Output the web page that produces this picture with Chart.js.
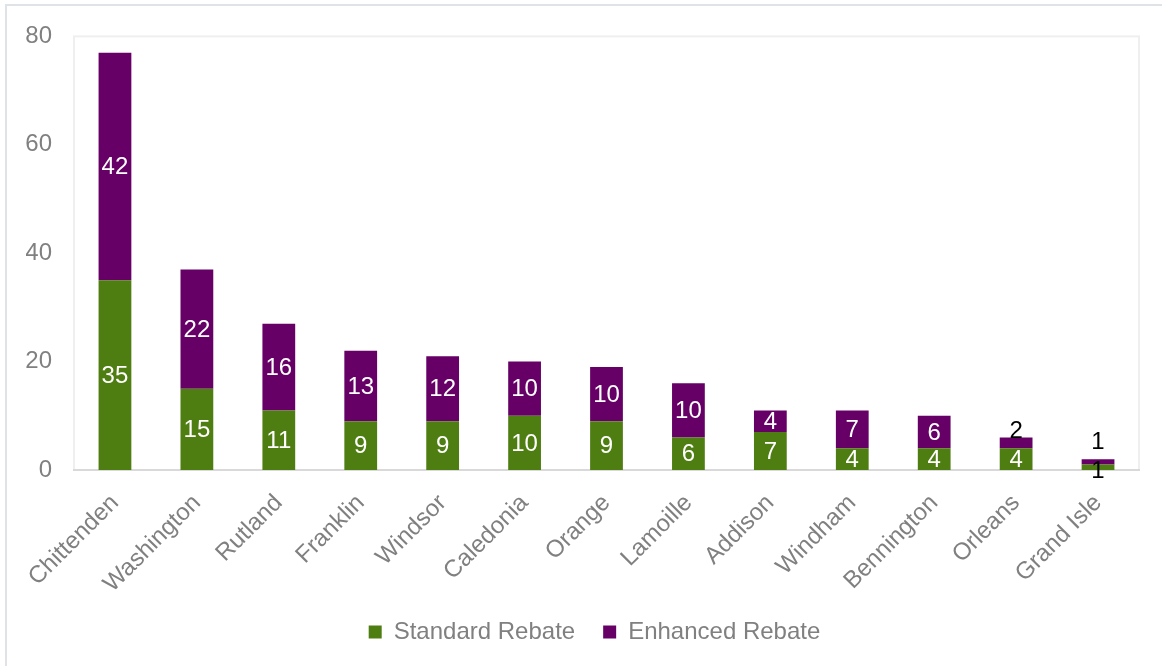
<!DOCTYPE html>
<html>
<head>
<meta charset="utf-8">
<script src="https://cdn.jsdelivr.net/npm/chart.js@4.4.1/dist/chart.umd.min.js"></script>
<style>
  html, body { margin: 0; padding: 0; background: #ffffff; }
  #wrap { position: relative; width: 1162px; height: 666px; }
  canvas { display: block; }
</style>
</head>
<body>
<div id="wrap"><canvas id="chart" width="1162" height="666"></canvas></div>
<script>
// Rebates by county
const counties = ["Chittenden", "Washington", "Rutland", "Franklin", "Windsor", "Caledonia",
  "Orange", "Lamoille", "Addison", "Windham", "Bennington", "Orleans", "Grand Isle"];
const standardRebate = [35, 15, 11, 9, 9, 10, 9, 6, 7, 4, 4, 4, 1];
const enhancedRebate = [42, 22, 16, 13, 12, 10, 10, 10, 4, 7, 6, 2, 1];
const yTicks = [0, 20, 40, 60, 80];

const GREEN = "#4e7d11";
const PURPLE = "#660066";
const GREY = "#808080";
const FONT = "'Liberation Sans', Arial, sans-serif";
const FS = 24;

// Outer frame and plot box
const framePlugin = {
  id: "frame",
  afterLayout(chart) {
    // centre the legend under the whole figure rather than the padded box
    if (chart.legend) {
      chart.legend.left += 12;
      chart.legend.right += 12;
    }
  },
  beforeDraw(chart) {
    const ctx = chart.ctx;
    const a = chart.chartArea;
    ctx.save();
    ctx.strokeStyle = "#dfe3e8";
    ctx.lineWidth = 2;
    ctx.beginPath();
    ctx.moveTo(6, chart.height);
    ctx.lineTo(6, 5);
    ctx.lineTo(chart.width, 5);
    ctx.stroke();
    ctx.strokeStyle = "#efefef";
    ctx.lineWidth = 2;
    ctx.strokeRect(a.left, a.top, a.right - a.left, a.bottom - a.top);
    ctx.restore();
  }
};

// Value labels centred in each segment; small segments get dark text and
// the upper label is lifted clear of the one below it
const valueLabels = {
  id: "valueLabels",
  afterDatasetsDraw(chart) {
    const ctx = chart.ctx;
    ctx.save();
    ctx.font = FS + "px " + FONT;
    ctx.textAlign = "center";
    ctx.textBaseline = "middle";
    const lowerCenters = [];
    chart.data.datasets.forEach((ds, di) => {
      const meta = chart.getDatasetMeta(di);
      meta.data.forEach((bar, i) => {
        const top = Math.min(bar.y, bar.base);
        const bottom = Math.max(bar.y, bar.base);
        const h = bottom - top;
        let y = (top + bottom) / 2;
        const small = h < 18;
        if (di === 0) {
          if (small) y += 3;
          lowerCenters[i] = y;
        } else if (small) {
          y = Math.min(y, lowerCenters[i] - 29);
        }
        ctx.fillStyle = small ? "#000000" : "#ffffff";
        ctx.fillText(String(ds.data[i]), bar.x, y + 1);
      });
    });
    ctx.restore();
  }
};

new Chart(document.getElementById("chart"), {
  type: "bar",
  data: {
    labels: counties,
    datasets: [
      { label: "Standard Rebate", data: standardRebate, backgroundColor: GREEN },
      { label: "Enhanced Rebate", data: enhancedRebate, backgroundColor: PURPLE }
    ]
  },
  options: {
    responsive: false,
    animation: false,
    devicePixelRatio: 1,
    layout: { padding: { left: 26, right: 23, top: 34, bottom: 12 } },
    datasets: { bar: { categoryPercentage: 1.0, barPercentage: 0.4 } },
    scales: {
      x: {
        stacked: true,
        grid: { display: false, drawTicks: false },
        border: { display: true, color: "#d9d9d9", width: 2 },
        ticks: {
          color: GREY,
          font: { family: FONT, size: FS },
          minRotation: 45,
          maxRotation: 45,
          padding: 19
        },
        afterFit(scale) {
          scale.paddingLeft = 0;
          scale.paddingRight = 0;
          scale.height = 122;
        }
      },
      y: {
        stacked: true,
        min: 0,
        max: 80,
        afterBuildTicks(scale) { scale.ticks = yTicks.map(v => ({ value: v })); },
        grid: { display: false, drawTicks: false },
        border: { display: false },
        ticks: {
          color: GREY,
          font: { family: FONT, size: FS },
          padding: 22
        },
        afterFit(scale) { scale.width = 48; }
      }
    },
    plugins: {
      legend: {
        position: "bottom",
        labels: {
          color: GREY,
          font: { family: FONT, size: FS },
          boxWidth: 13,
          boxHeight: 13,
          padding: 28
        }
      },
      tooltip: { enabled: false }
    }
  },
  plugins: [framePlugin, valueLabels]
});
</script>
</body>
</html>
